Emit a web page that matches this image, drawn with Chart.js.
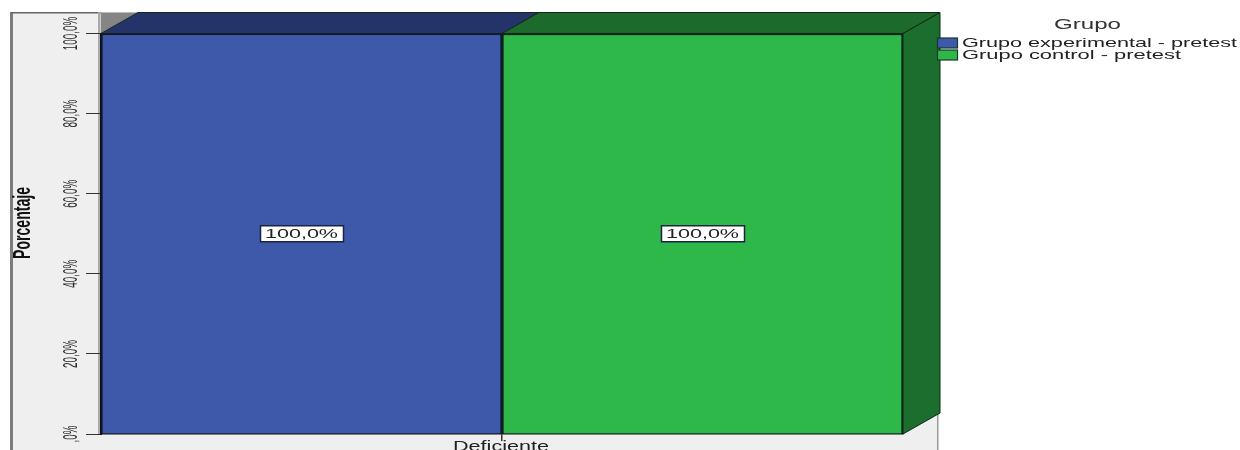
<!DOCTYPE html>
<html><head><meta charset="utf-8">
<style>html,body{margin:0;padding:0;background:#fff}#w{width:1240px;height:450px;position:relative}</style>
<script src="https://cdn.jsdelivr.net/npm/chart.js@4"></script></head>
<body><div id="w"><canvas id="c" width="1240" height="450"></canvas></div>
<script>
const categories = ["Deficiente"];
const seriesNames = ["Grupo experimental - pretest", "Grupo control - pretest"];
const experimentalValues = [100];
const controlValues = [100];
const legendTitle = "Grupo";
const yAxisTitle = "Porcentaje";
const tickValues = [0, 20, 40, 60, 80, 100];
const tickLabels = [",0%", "20,0%", "40,0%", "60,0%", "80,0%", "100,0%"];
const valueLabels = ["100,0%", "100,0%"];
const barColors = ["#3e58aa", "#2eb84a"];
const topColors = ["#24346b", "#1d6b2c"];
const sideColor = "#1c6e2e";
const DX = 37, DY = 21;

function fitText(ctx, text, font, x, y, width, opts = {}) {
  ctx.save();
  ctx.font = font;
  ctx.fillStyle = opts.color || "#222";
  ctx.textBaseline = "middle";
  ctx.textAlign = "center";
  const w = ctx.measureText(text).width;
  ctx.translate(x, y);
  if (opts.rotate) ctx.rotate(opts.rotate);
  ctx.scale(width / w, 1);
  ctx.fillText(text, 0, 0);
  ctx.restore();
}
function poly(ctx, pts, fill, stroke) {
  ctx.beginPath();
  pts.forEach((p, i) => i ? ctx.lineTo(p[0], p[1]) : ctx.moveTo(p[0], p[1]));
  ctx.closePath();
  ctx.fillStyle = fill; ctx.fill();
  if (stroke) { ctx.strokeStyle = stroke; ctx.lineWidth = 1; ctx.stroke(); }
}

const frame = {
  id: "frame",
  beforeDraw(chart) {
    const { ctx, chartArea: a, scales } = chart;
    const panelL = 11, panelR = 938, panelT = 12, H = chart.height;
    ctx.save();
    ctx.fillStyle = "#efefef";
    ctx.fillRect(panelL, panelT, panelR - panelL, H - panelT);
    ctx.fillStyle = "#7d7d7d";
    ctx.fillRect(panelL - 1, panelT, 3, H - panelT);
    ctx.fillStyle = "#999";
    ctx.fillRect(panelR - 1, a.bottom - DY, 1.5, H - a.bottom + DY);
    ctx.fillStyle = "#666";
    ctx.fillRect(panelL, panelT, a.left - panelL, 1.5);
    ctx.fillStyle = "#aaa";
    ctx.fillRect(a.left - 3, panelT, 2.5, a.bottom - panelT);
    poly(ctx, [[a.left, a.top], [a.left + DX, a.top - DY], [a.left, a.top - DY]], "#858585");
    const top = scales.y.getPixelForValue(100);
    chart.data.datasets.forEach((ds, i) => {
      const el = chart.getDatasetMeta(i).data[0];
      const l = el.x - el.width / 2, r = el.x + el.width / 2;
      poly(ctx, [[l, top], [l + DX, top - DY], [r + DX, top - DY], [r, top]], topColors[i], "#14261c");
    });
    const last = chart.getDatasetMeta(1).data[0];
    const r = last.x + last.width / 2, base = scales.y.getPixelForValue(0);
    poly(ctx, [[r, top], [r + DX, top - DY], [r + DX, base - DY], [r, base]], sideColor, "#0d2a14");
    ctx.restore();
  },
  afterDraw(chart) {
    const { ctx, scales } = chart;
    chart.data.datasets.forEach((ds, i) => {
      const el = chart.getDatasetMeta(i).data[0];
      const cy = scales.y.getPixelForValue(ds.data[0] / 2);
      ctx.fillStyle = "#fff";
      ctx.fillRect(el.x - 41, cy - 8, 83, 16);
      ctx.strokeStyle = "#1a2340"; ctx.lineWidth = 1.5;
      ctx.strokeRect(el.x - 41, cy - 8, 83, 16);
      fitText(ctx, valueLabels[i], "13.5px 'Liberation Sans'", el.x, cy + 0.5, 73);
    });
    scales.y.ticks.forEach(t => {
      const idx = tickValues.indexOf(t.value);
      if (idx < 0) return;
      const text = tickLabels[idx];
      fitText(ctx, text, "20px 'Liberation Sans'", 71, scales.y.getPixelForValue(t.value),
        text.length * 5.6, { rotate: -Math.PI / 2, color: "#2a2a2a" });
    });
    fitText(ctx, yAxisTitle, "bold 23px 'Liberation Sans'", 24, 223, 72, { rotate: -Math.PI / 2, color: "#111" });
    fitText(ctx, categories[0], "14px 'Liberation Sans'", scales.x.getPixelForValue(0) - 1, 447.5, 96);
    fitText(ctx, legendTitle, "14px 'Liberation Sans'", 1087.5, 25, 67, { color: "#333" });
    seriesNames.forEach((name, i) => {
      const y = 43 + i * 12;
      ctx.fillStyle = barColors[i];
      ctx.fillRect(937.5, y - 5, 20, 10);
      ctx.strokeStyle = "#1a3a2a"; ctx.lineWidth = 1.2;
      ctx.strokeRect(937.5, y - 5, 20, 10);
      const w = i === 0 ? 275 : 219;
      fitText(ctx, name, "13px 'Liberation Sans'", 962 + w / 2, y, w, { color: "#222" });
    });
  }
};

new Chart(document.getElementById("c"), {
  type: "bar",
  data: {
    labels: categories,
    datasets: [
      { label: seriesNames[0], data: experimentalValues, backgroundColor: barColors[0], borderColor: "#10182e", borderWidth: 2 },
      { label: seriesNames[1], data: controlValues, backgroundColor: barColors[1], borderColor: "#10241a", borderWidth: 2 }
    ]
  },
  options: {
    responsive: false,
    animation: false,
    layout: { padding: { left: 0, top: 33.5, right: 337, bottom: 0 } },
    datasets: { bar: { barPercentage: 1, categoryPercentage: 1 } },
    plugins: { legend: { display: false }, tooltip: { enabled: false }, title: { display: false } },
    scales: {
      x: {
        afterFit(s) { s.height = 16; },
        grid: { offset: false, drawOnChartArea: false, tickLength: 7, tickColor: "#333", lineWidth: 1.5 },
        border: { color: "#111", width: 1.5 },
        ticks: { display: false }
      },
      y: {
        min: 0, max: 100,
        afterFit(s) { s.width = 101; },
        afterBuildTicks(s) { s.ticks = tickValues.map(value => ({ value })); },
        grid: { drawOnChartArea: false, tickLength: 15, tickColor: "#333", lineWidth: 1 },
        border: { color: "#111", width: 2 },
        ticks: { display: false }
      }
    }
  },
  plugins: [frame]
});
</script></body></html>
